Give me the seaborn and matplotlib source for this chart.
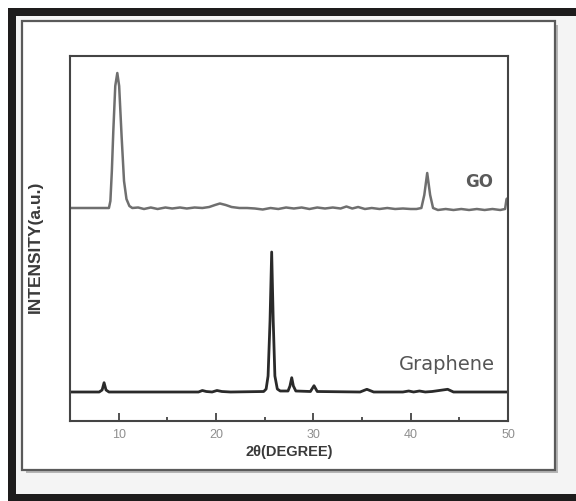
import matplotlib
matplotlib.use("Agg")
import matplotlib.pyplot as plt
from matplotlib.patches import Rectangle
from matplotlib.ticker import MultipleLocator
import seaborn as sns
import pandas as pd

# ---------------- data (arbitrary units) ----------------
go_2theta = [5.0, 9.0, 9.15, 9.3, 9.45, 9.65, 9.86, 10.05, 10.3, 10.55, 10.8, 11.1, 11.4,
             12.0, 12.6, 13.3, 14.0, 14.8, 15.5, 16.3, 17.0, 17.8, 18.6, 19.3, 19.9,
             20.4, 21.0, 21.6, 22.4, 23.2, 24.0, 24.8, 25.6, 26.4, 27.2, 28.0, 28.8,
             29.6, 30.4, 31.2, 32.0, 32.8, 33.4, 34.0, 34.6, 35.3, 36.0, 36.8, 37.6,
             38.4, 39.2, 40.0, 40.6, 41.1, 41.4, 41.7, 42.0, 42.3, 42.8, 43.6, 44.4,
             45.2, 46.0, 46.8, 47.6, 48.4, 49.2, 49.7, 49.85, 50.0]
go_intensity = [213, 213, 220, 250, 290, 335, 348, 335, 285, 240, 222, 215, 213,
                213.5, 212, 213.5, 212, 213.5, 212.5, 213.5, 212.5, 213.5, 213, 214, 216,
                217.5, 216, 214, 213, 213, 212.5, 211.5, 213, 212, 213.5, 212.5, 213.5,
                212, 213.5, 212.5, 213.5, 212.5, 214.5, 212.5, 214, 212, 213, 212, 213,
                212, 212.5, 212, 212, 213, 226, 248, 226, 213, 211, 212, 211,
                212, 211, 212, 211, 212, 211, 212, 222, 223]

gr_2theta = [5.0, 8.0, 8.3, 8.5, 8.7, 9.0, 15.0, 18.2, 18.6, 19.0, 19.6, 20.1, 20.6,
             21.5, 24.9, 25.15, 25.35, 25.55, 25.72, 25.88, 26.05, 26.3, 26.6, 27.4,
             27.6, 27.78, 27.95, 28.2, 29.7, 30.07, 30.4, 34.8, 35.5, 36.2, 39.2, 39.8,
             40.3, 40.9, 41.5, 42.2, 43.8, 44.4, 50.0]
gr_intensity = [29, 29, 31, 38.3, 31, 29, 29, 29, 30.5, 29.5, 29, 30.5, 29.5,
                29, 29.5, 32, 45, 100, 169, 100, 45, 32, 30, 30,
                35, 43.3, 35, 30, 29.5, 35.3, 29.5, 29, 31.7, 29, 29, 30,
                29, 30, 29, 29.5, 31.7, 29, 29]

x_ticks = [10, 20, 30, 40, 50]
series_labels = ["GO", "Graphene"]

df = pd.concat([
    pd.DataFrame({"two_theta": go_2theta, "intensity": go_intensity, "sample": series_labels[0]}),
    pd.DataFrame({"two_theta": gr_2theta, "intensity": gr_intensity, "sample": series_labels[1]}),
], ignore_index=True)

# ---------------- figure ----------------
sns.set_theme(style="white")
plt.rcParams["font.family"] = ["Liberation Sans", "DejaVu Sans"]

W, H = 576, 501
fig = plt.figure(figsize=(W / 100, H / 100), dpi=100, facecolor="white")


def px_rect(x0, y0, x1, y1, z, **kw):
    r = Rectangle((x0 / W, 1 - y1 / H), (x1 - x0) / W, (y1 - y0) / H,
                  transform=fig.transFigure, zorder=z, **kw)
    fig.patches.append(r)


# outer black border and frame
px_rect(8, 8, 600, 510, -10, facecolor="#1e1c1c", edgecolor="none")
px_rect(16, 16, 600, 494, -9, facecolor="#f4f4f4", edgecolor="none")
px_rect(26, 25, 558, 473, -8, facecolor="#b5b5b5", edgecolor="none")  # shadow
px_rect(22, 21, 555, 470, -7, facecolor="white", edgecolor="#5a5a5a", linewidth=1.6)

left, right, top, bottom = 70, 508, 56, 421
ax = fig.add_axes([left / W, 1 - bottom / H, (right - left) / W, (bottom - top) / H])
ax.set_zorder(5)
ax.set_facecolor("white")

palette = {"GO": "#6f6f6f", "Graphene": "#2a2a2a"}
sns.lineplot(data=df[df["sample"] == "GO"], x="two_theta", y="intensity", ax=ax,
             color=palette["GO"], linewidth=1.8, estimator=None, sort=False, legend=False)
sns.lineplot(data=df[df["sample"] == "Graphene"], x="two_theta", y="intensity", ax=ax,
             color=palette["Graphene"], linewidth=2.0, estimator=None, sort=False, legend=False)

ax.set_xlim(5, 50)
ax.set_ylim(0, 365)
ax.set_xticks(x_ticks)
ax.set_xticklabels([str(t) for t in x_ticks])
ax.xaxis.set_minor_locator(MultipleLocator(5))
ax.set_yticks([])

for s in ax.spines.values():
    s.set_visible(True)
    s.set_color("#444444")
    s.set_linewidth(1.5)

ax.tick_params(axis="x", which="major", direction="in", length=5.5, width=1.3,
               color="#444444", pad=6, labelsize=9, labelcolor="#8f8f8f",
               bottom=True, top=False)
ax.tick_params(axis="x", which="minor", direction="in", length=3, width=1.3,
               color="#444444", bottom=True, top=False)

ax.set_xlabel("2θ(DEGREE)", fontsize=10.5, fontweight="bold", color="#3a3a3a")
ax.xaxis.set_label_coords(0.5, -0.066)
ax.set_ylabel("INTENSITY(a.u.)", fontsize=12.5, fontweight="bold", color="#3a3a3a")
ax.yaxis.set_label_coords(-0.062, 0.477)

ax.text(47.0, 239, series_labels[0], fontsize=12, fontweight="bold", color="#5a5a5a",
        ha="center", va="center", family="DejaVu Sans")
ax.text(43.7, 56, series_labels[1], fontsize=14, color="#555555",
        ha="center", va="center", family="DejaVu Sans")

fig.savefig("out.png", dpi=100, facecolor=fig.get_facecolor())
